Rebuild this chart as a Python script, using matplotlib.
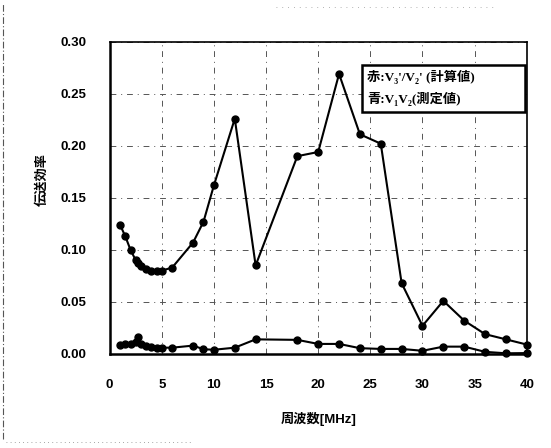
import numpy as np
import matplotlib.pyplot as plt
from matplotlib.lines import Line2D
from matplotlib.patches import Rectangle

plt.rcParams['font.family'] = ['Liberation Sans', 'Noto Sans CJK JP', 'DejaVu Sans']

# 周波数 [MHz]
freq = [1, 1.5, 2, 2.5, 2.7, 3, 3.5, 4, 4.5, 5, 6, 8, 9, 10, 12, 14,
        18, 20, 22, 24, 26, 28, 30, 32, 34, 36, 38, 40]
# 計算値 V3'/V2'
calc = [0.124, 0.113, 0.100, 0.090, 0.087, 0.084, 0.082, 0.080, 0.080, 0.080,
        0.083, 0.107, 0.127, 0.162, 0.226, 0.085, 0.190, 0.194, 0.269, 0.211,
        0.202, 0.068, 0.027, 0.051, 0.032, 0.019, 0.014, 0.009]
# 測定値 V1/V2
meas = [0.009, 0.010, 0.010, 0.011, 0.016, 0.010, 0.008, 0.007, 0.006, 0.006,
        0.006, 0.008, 0.0045, 0.004, 0.006, 0.014, 0.0135, 0.0096, 0.0096, 0.0055,
        0.0048, 0.0048, 0.003, 0.007, 0.007, 0.002, 0.0006, 0.0008]

xticks = [0, 5, 10, 15, 20, 25, 30, 35, 40]
yticks = [0.00, 0.05, 0.10, 0.15, 0.20, 0.25, 0.30]
legend_lines = ["赤:V₃'/V₂' (計算値)", "青:V₁V₂(測定値)"]

fig = plt.figure(figsize=(5.51, 4.48), dpi=100)
ax = fig.add_axes([0.199, 0.210, 0.757, 0.697])

for series in (calc, meas):
    ax.plot(freq, series, color='black', lw=1.5, marker='o', ms=5,
            markerfacecolor='black', markeredgecolor='black', clip_on=False, zorder=3)

ax.set_xlim(0, 40)
ax.set_ylim(0, 0.30)
ax.set_xticks(xticks)
ax.set_yticks(yticks)
ax.set_yticklabels([f"{v:.2f}" for v in yticks])
ax.tick_params(length=0, labelsize=9.5)
ax.tick_params(axis='y', pad=17)
ax.tick_params(axis='x', pad=18)
for lab in ax.get_xticklabels() + ax.get_yticklabels():
    lab.set_fontweight('bold')

ax.grid(True, linestyle='-.', linewidth=0.7, color='#555555', dashes=(6, 5, 1, 5))
ax.set_axisbelow(True)
for side in ax.spines.values():
    side.set_linewidth(1.2)
ax.spines['left'].set_linewidth(1.8)
ax.spines['bottom'].set_linewidth(1.8)

ax.set_xlabel('周波数[MHz]', fontsize=9.5, fontweight='bold')
ax.set_ylabel('伝送効率', fontsize=9.5, fontweight='bold')
ax.xaxis.set_label_coords(0.50, -0.186)
ax.yaxis.set_label_coords(-0.145, 0.56)

# 凡例ボックス
ax.add_patch(Rectangle((0.604, 0.776), 0.392, 0.150, transform=ax.transAxes,
                       facecolor='white', edgecolor='black', lw=1.8, zorder=5))
serif_cjk = ['Liberation Serif', 'Noto Sans CJK JP', 'DejaVu Serif']
ax.text(0.618, 0.887, legend_lines[0], transform=ax.transAxes, fontsize=9.5,
        family=serif_cjk, fontweight='bold', va='center', ha='left', zorder=6)
ax.text(0.618, 0.818, legend_lines[1], transform=ax.transAxes, fontsize=9.5,
        family=serif_cjk, fontweight='bold', va='center', ha='left', zorder=6)

# 外枠の点線
fig.add_artist(Line2D([0.006, 0.006], [0.02, 0.99], transform=fig.transFigure,
                      color='#555555', lw=0.8, linestyle=(0, (6, 2, 1, 2))))
fig.add_artist(Line2D([0.01, 0.35], [0.013, 0.013], transform=fig.transFigure,
                      color='#888888', lw=0.6, linestyle=(0, (1, 4))))
fig.add_artist(Line2D([0.5, 0.9], [0.985, 0.985], transform=fig.transFigure,
                      color='#999999', lw=0.6, linestyle=(0, (1, 6))))

fig.savefig('out.png', dpi=100)
